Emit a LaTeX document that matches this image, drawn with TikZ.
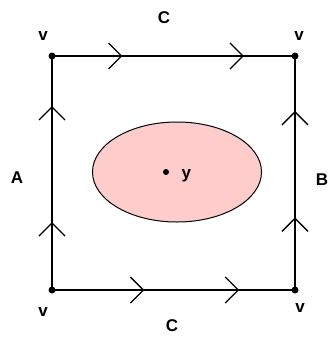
\documentclass[tikz,border=0pt]{standalone}
\usepackage{fontspec}
\setmainfont{Liberation Sans}
\usetikzlibrary{decorations.markings,arrows.meta,shapes.geometric}
\definecolor{pinkfill}{RGB}{255,204,204}
\tikzset{
  edge/.style={line width=1.5pt, draw=black},
  chev/.style={postaction={decorate, decoration={markings,
     mark=at position #1 with {\arrow[line width=1.3pt]{Straight Barb[length=13pt,width=26pt]}}}}},
  vdot/.style={circle, fill=black, inner sep=0pt, minimum size=7pt},
  lab/.style={font=\fontsize{17}{20}\selectfont\bfseries},
}
\begin{document}
\begin{tikzpicture}[x=1pt,y=-1pt]
\useasboundingbox (0,0) rectangle (334,338);
\coordinate (tl) at (52,56);
\coordinate (tr) at (295,56);
\coordinate (bl) at (52,290);
\coordinate (br) at (295,290);
\draw[edge, chev=0.29, chev=0.79] (tl) -- (tr);
\draw[edge, chev=0.38, chev=0.77] (bl) -- (br);
\draw[edge, chev=0.29, chev=0.786] (bl) -- (tl);
\draw[edge, chev=0.31, chev=0.765] (br) -- (tr);
\node[vdot] (vtl) at (tl) {};
\node[vdot] (vtr) at (tr) {};
\node[vdot] (vbl) at (bl) {};
\node[vdot] (vbr) at (br) {};
\node[ellipse, draw=black, line width=1pt, fill=pinkfill, minimum width=169pt, minimum height=100pt, inner sep=0pt] (ell) at (177,172) {};
\node[vdot, minimum size=6pt] (y) at (166,172) {};
\node[lab, anchor=west] (ylab) at (178,176) {y};
\node[lab] (ctop) at (164,18) {C};
\node[lab] (cbot) at (172,326) {C};
\node[lab] (a) at (17,178) {A};
\node[lab] (b) at (322,180) {B};
\node[lab] (v1) at (43,36) {v};
\node[lab] (v2) at (299,36) {v};
\node[lab] (v3) at (43,312) {v};
\node[lab] (v4) at (300,308) {v};
\end{tikzpicture}
\end{document}
